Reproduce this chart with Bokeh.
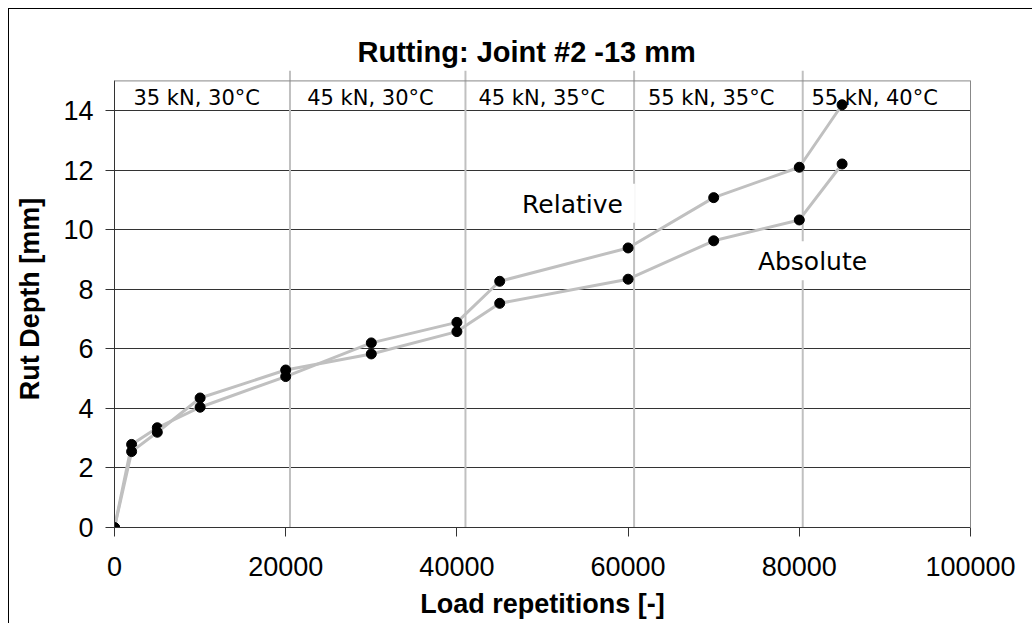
from bokeh.plotting import figure
from bokeh.models import Range1d, FixedTicker, LinearAxis, Span, Label, NumeralTickFormatter
from bokeh.core.properties import value
from bokeh.embed import file_html
from bokeh.resources import INLINE

# ---- data ----
reps = [0, 2000, 5000, 10000, 20000, 30000, 40000, 45000, 60000, 70000, 80000, 85000]
relative = [0, 2.79, 3.35, 4.04, 5.07, 6.20, 6.89, 8.27, 9.39, 11.08, 12.10, 14.20]
absolute = [0, 2.55, 3.20, 4.35, 5.29, 5.83, 6.58, 7.53, 8.34, 9.63, 10.33, 12.21]

phase_labels = ["35 kN, 30°C", "45 kN, 30°C", "45 kN, 35°C", "55 kN, 35°C", "55 kN, 40°C"]
phase_label_x = [9600, 29900, 49900, 69700, 88800]
phase_bounds = [20500, 41000, 60700, 80400]

x_ticks = [0, 20000, 40000, 60000, 80000, 100000]
y_ticks = [0, 2, 4, 6, 8, 10, 12, 14]

X_MAX = 100000
Y_BOX = 15.0      # top of the header row
Y_TOP = 15.35     # top of drawing area (separators overhang)
HEADER_Y = 14.42

TICK_FONT = "Liberation Sans"
NOTE_FONT = "DejaVu Sans"
DARK = "#333333"
FRAME_GRAY = "#888888"
LIGHT = "#c0c0c0"

p = figure(width=1024, height=615, output_backend="svg", toolbar_location=None,
           x_range=Range1d(0, X_MAX), y_range=Range1d(0, Y_TOP),
           min_border_left=105, min_border_right=63, min_border_top=61, min_border_bottom=97,
           title="Rutting: Joint #2 -13 mm")
p.outline_line_color = None
p.background_fill_color = "white"
p.border_fill_color = "white"
p.styles = {"margin-left": "8px", "margin-top": "8px",
            "border-top": "1px solid black", "border-left": "1px solid black"}

p.title.align = "left"
p.title.offset = 243
p.title.standoff = 5
p.title.text_font = TICK_FONT
p.title.text_font_style = "bold"
p.title.text_font_size = "29px"
p.title.text_color = "black"

# axes
for ax in (p.xaxis[0], p.yaxis[0]):
    ax.axis_line_color = DARK
    ax.major_tick_line_color = DARK
    ax.minor_tick_line_color = None
    ax.major_tick_out = 9
    ax.major_tick_in = 0
    ax.major_label_text_font = TICK_FONT
    ax.major_label_text_font_size = "27px"
    ax.major_label_text_color = "black"
    ax.axis_label_text_font = TICK_FONT
    ax.axis_label_text_font_style = "bold"
    ax.axis_label_text_font_size = "27px"
    ax.axis_label_text_color = "black"

p.xaxis.ticker = FixedTicker(ticks=x_ticks)
p.xaxis.formatter = NumeralTickFormatter(format="0")
p.xaxis.axis_label = "Load repetitions [-]"
p.xaxis.major_label_standoff = 20
p.xaxis.axis_label_standoff = 10

p.yaxis.ticker = FixedTicker(ticks=y_ticks)
p.yaxis.bounds = (0, Y_BOX)
p.yaxis.axis_label = "Rut Depth [mm]"
p.yaxis.major_label_standoff = 12
p.yaxis.axis_label_standoff = 15

p.xgrid.grid_line_color = None
p.ygrid.grid_line_color = DARK
p.ygrid.grid_line_width = 1

# right frame line
right_ax = LinearAxis(bounds=(0, Y_BOX), ticker=FixedTicker(ticks=[]),
                      major_label_text_font_size="0px", major_tick_line_color=None,
                      minor_tick_line_color=None, axis_line_color=FRAME_GRAY)
p.add_layout(right_ax, "right")
# top frame line
p.add_layout(Span(location=Y_BOX, dimension="width", line_color=FRAME_GRAY, line_width=1))

# phase separators
p.segment(x0=phase_bounds, y0=0, x1=phase_bounds, y1=Y_TOP, line_color=LIGHT, line_width=2)

# phase header labels
p.text(x=phase_label_x, y=[HEADER_Y] * len(phase_label_x), text=phase_labels,
       text_font=value(NOTE_FONT), text_font_size=value("21px"),
       text_align="center", text_baseline="middle", text_color="black")

# data
for series in (relative, absolute):
    p.line(reps, series, line_color=LIGHT, line_width=3)
    p.scatter(reps, series, size=10, fill_color="black", line_color="black")

for txt, lx, ly in (("Relative", 53620, 10.89), ("Absolute", 81660, 8.96)):
    p.add_layout(Label(x=lx, y=ly, text=txt, text_font=NOTE_FONT, text_font_size="25px",
                       text_align="center", text_baseline="middle", text_color="black",
                       background_fill_color="white",
                       padding=dict(left=10, right=12, top=6, bottom=4)))

open("out.html", "w").write(file_html(p, INLINE))
